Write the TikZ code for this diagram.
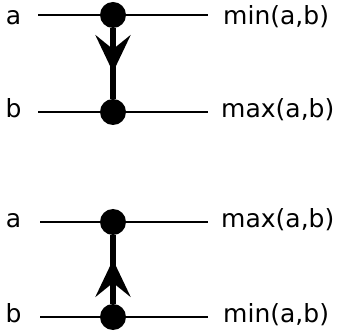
\documentclass[tikz,border=0pt]{standalone}
\usepackage{fontspec}
\setmainfont{DejaVu Sans}
\usetikzlibrary{arrows.meta,decorations.markings}
\tikzset{
  dot/.style={circle,fill=black,draw=none,minimum size=26pt,inner sep=0pt},
  wire/.style={line width=2.8pt},
  lbl/.style={inner sep=0pt,font=\fontsize{25}{29}\selectfont},
  comp/.style={line width=5.5pt,postaction={decorate,decoration={markings,
    mark=at position #1 with {\arrow{Stealth[length=37pt,width=35pt,inset=14pt]}}}}}
}
\begin{document}
\begin{tikzpicture}[x=1pt,y=-1pt]
\useasboundingbox (0,0) rectangle (337,336);
% top comparator
\coordinate (l1) at (38,15);
\coordinate (r1) at (208,15);
\coordinate (l2) at (38,112);
\coordinate (r2) at (208,112);
\node[dot] (d1) at (113,15) {};
\node[dot] (d2) at (113,112) {};
\draw[wire] (l1) -- (d1) -- (r1);
\draw[wire] (l2) -- (d2) -- (r2);
\draw[comp=44pt] (d1) -- (d2);
\node[lbl,anchor=base] (ta) at (13.5,25) {a};
\node[lbl,anchor=base] (tb) at (13.5,118) {b};
\node[lbl,anchor=base west] (tmin) at (223,25) {min(a,b)};
\node[lbl,anchor=base west] (tmax) at (221,118) {max(a,b)};
% bottom comparator
\coordinate (l3) at (40,222);
\coordinate (r3) at (208,222);
\coordinate (l4) at (40,317);
\coordinate (r4) at (208,317);
\node[dot] (d3) at (113,222) {};
\node[dot] (d4) at (113,317) {};
\draw[wire] (l3) -- (d3) -- (r3);
\draw[wire] (l4) -- (d4) -- (r4);
\draw[comp=44pt] (d4) -- (d3);
\node[lbl,anchor=base] (ba) at (13.5,228) {a};
\node[lbl,anchor=base] (bb) at (13.5,323) {b};
\node[lbl,anchor=base west] (bmax) at (221,228) {max(a,b)};
\node[lbl,anchor=base west] (bmin) at (223,323) {min(a,b)};
\end{tikzpicture}
\end{document}
